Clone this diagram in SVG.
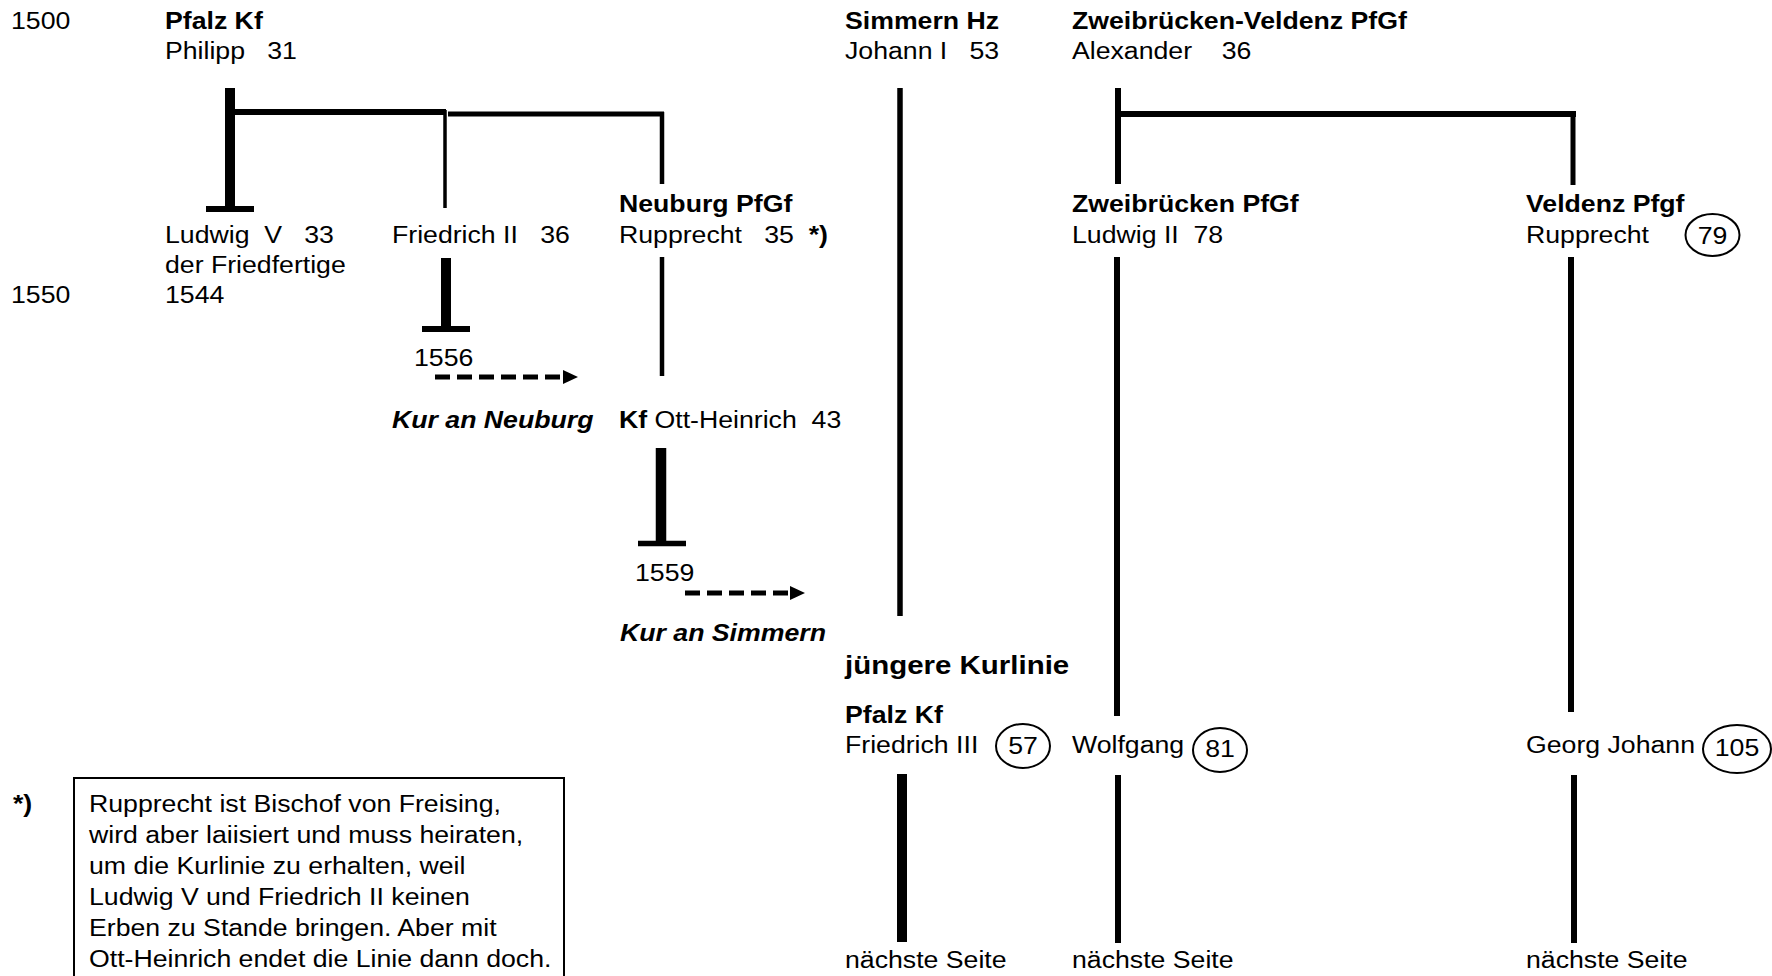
<svg xmlns="http://www.w3.org/2000/svg" width="1772" height="976" viewBox="0 0 1772 976">
<style>
.t{font-family:"Liberation Sans",Arial,sans-serif;font-size:23px;fill:#000}
.b{font-weight:bold}
.bi{font-weight:bold;font-style:italic}
.big{font-size:25.4px}
.c{text-anchor:middle}
.ln{stroke:#000;fill:none;stroke-linecap:butt}
.dash{stroke:#000;stroke-width:5;stroke-dasharray:15 7;fill:none}
.ring{fill:none;stroke:#000;stroke-width:2}
</style>
<rect width="1772" height="976" fill="#fff"/>

<g id="years" class="t" transform="scale(1.16 1)">
<text x="9.48" y="29">1500</text>
<text x="9.48" y="303">1550</text>
</g>

<g id="n-philipp" class="t" transform="scale(1.16 1)">
<text x="142.24" y="29" class="b">Pfalz Kf</text>
<text x="142.24" y="59">Philipp&#160;&#160;&#160;31</text>
</g>

<g id="n-johann" class="t" transform="scale(1.16 1)">
<text x="728.45" y="29" class="b">Simmern Hz</text>
<text x="728.45" y="59">Johann I&#160;&#160;&#160;53</text>
</g>

<g id="n-alexander" class="t" transform="scale(1.16 1)">
<text x="924.14" y="29" class="b">Zweibrücken-Veldenz PfGf</text>
<text x="924.14" y="59">Alexander&#160;&#160;&#160;&#160;36</text>
</g>

<g id="n-ludwigV" class="t" transform="scale(1.16 1)">
<text x="142.24" y="243">Ludwig&#160;&#160;V&#160;&#160;&#160;33</text>
<text x="142.24" y="273">der Friedfertige</text>
<text x="142.24" y="303">1544</text>
</g>

<g id="n-friedrichII" class="t" transform="scale(1.16 1)">
<text x="337.93" y="243">Friedrich II&#160;&#160;&#160;36</text>
<text x="356.9" y="366">1556</text>
</g>

<g id="n-rupprecht-neuburg" class="t" transform="scale(1.16 1)">
<text x="533.62" y="212" class="b">Neuburg PfGf</text>
<text x="533.62" y="243">Rupprecht&#160;&#160;&#160;35&#160;&#160;<tspan class="b">*)</tspan></text>
</g>

<g id="n-kur-neuburg" class="t" transform="scale(1.16 1)">
<text x="337.93" y="428" class="bi">Kur an Neuburg</text>
</g>

<g id="n-ottheinrich" class="t" transform="scale(1.16 1)">
<text x="533.62" y="428"><tspan class="b">Kf</tspan> Ott-Heinrich&#160;&#160;43</text>
<text x="547.41" y="581">1559</text>
</g>

<g id="n-kur-simmern" class="t" transform="scale(1.16 1)">
<text x="534.48" y="641" class="bi">Kur an Simmern</text>
</g>

<g id="n-ludwigII" class="t" transform="scale(1.16 1)">
<text x="924.14" y="212" class="b">Zweibrücken PfGf</text>
<text x="924.14" y="243">Ludwig II&#160;&#160;78</text>
</g>

<g id="n-rupprecht-veldenz">
<g class="t" transform="scale(1.16 1)">
<text x="1315.52" y="212" class="b">Veldenz Pfgf</text>
<text x="1315.52" y="243">Rupprecht</text>
<text x="1476.29" y="244" class="c">79</text>
</g>
<ellipse class="ring" cx="1712.5" cy="235" rx="27" ry="21"/>
</g>

<g id="n-juengere" class="t" transform="scale(1.16 1)">
<text x="728.45" y="674" class="b big">jüngere Kurlinie</text>
</g>

<g id="n-friedrichIII">
<g class="t" transform="scale(1.16 1)">
<text x="728.45" y="723" class="b">Pfalz Kf</text>
<text x="728.45" y="753">Friedrich III</text>
<text x="881.9" y="754" class="c">57</text>
<text x="728.45" y="968">nächste Seite</text>
</g>
<ellipse class="ring" cx="1023" cy="746" rx="27" ry="22"/>
</g>

<g id="n-wolfgang">
<g class="t" transform="scale(1.16 1)">
<text x="924.14" y="753">Wolfgang</text>
<text x="1051.72" y="757" class="c">81</text>
<text x="924.14" y="968">nächste Seite</text>
</g>
<ellipse class="ring" cx="1220" cy="750" rx="27" ry="22"/>
</g>

<g id="n-georgjohann">
<g class="t" transform="scale(1.16 1)">
<text x="1315.52" y="753">Georg Johann</text>
<text x="1497.4" y="756" class="c">105</text>
<text x="1315.52" y="968">nächste Seite</text>
</g>
<ellipse class="ring" cx="1737" cy="749" rx="34" ry="24"/>
</g>

<g id="footnote">
<g class="t" transform="scale(1.16 1)">
<text x="11.21" y="812" class="b">*)</text>
<text x="76.72" y="812">Rupprecht ist Bischof von Freising,</text>
<text x="76.72" y="843">wird aber laiisiert und muss heiraten,</text>
<text x="76.72" y="874">um die Kurlinie zu erhalten, weil</text>
<text x="76.72" y="905">Ludwig V und Friedrich II keinen</text>
<text x="76.72" y="936">Erben zu Stande bringen. Aber mit</text>
<text x="76.72" y="967">Ott-Heinrich endet die Linie dann doch.</text>
</g>
<rect x="74" y="778" width="490" height="220" fill="none" stroke="#000" stroke-width="2"/>
</g>

<g id="connectors">
<line class="ln" x1="230" y1="88" x2="230" y2="209" stroke-width="10"/>
<line class="ln" x1="206" y1="209" x2="254" y2="209" stroke-width="6"/>
<line class="ln" x1="235" y1="112" x2="446" y2="112" stroke-width="6"/>
<line class="ln" x1="445" y1="110" x2="445" y2="208" stroke-width="3.5"/>
<line class="ln" x1="448" y1="114" x2="664" y2="114" stroke-width="5"/>
<line class="ln" x1="662" y1="112" x2="662" y2="184" stroke-width="4.5"/>
<line class="ln" x1="446" y1="258" x2="446" y2="329" stroke-width="10"/>
<line class="ln" x1="422" y1="329" x2="470" y2="329" stroke-width="6"/>
<line class="dash" x1="435" y1="377" x2="563" y2="377"/>
<path d="M563,370 L578,377 L563,384 Z" fill="#000"/>
<line class="ln" x1="662" y1="257" x2="662" y2="376" stroke-width="4.5"/>
<line class="ln" x1="661" y1="448" x2="661" y2="543" stroke-width="10.5"/>
<line class="ln" x1="638" y1="543.5" x2="686" y2="543.5" stroke-width="5.5"/>
<line class="dash" x1="685" y1="593" x2="790" y2="593"/>
<path d="M790,586 L805,593 L790,600 Z" fill="#000"/>
<line class="ln" x1="900" y1="88" x2="900" y2="616" stroke-width="5.5"/>
<line class="ln" x1="1118" y1="88" x2="1118" y2="184" stroke-width="6"/>
<line class="ln" x1="1118" y1="114" x2="1576" y2="114" stroke-width="6"/>
<line class="ln" x1="1573" y1="111" x2="1573" y2="185" stroke-width="5"/>
<line class="ln" x1="1117" y1="257" x2="1117" y2="716" stroke-width="6"/>
<line class="ln" x1="1571" y1="257" x2="1571" y2="712" stroke-width="6"/>
<line class="ln" x1="902" y1="774" x2="902" y2="942" stroke-width="10"/>
<line class="ln" x1="1118" y1="775" x2="1118" y2="943" stroke-width="6"/>
<line class="ln" x1="1574" y1="775" x2="1574" y2="943" stroke-width="6"/>
</g>
</svg>
